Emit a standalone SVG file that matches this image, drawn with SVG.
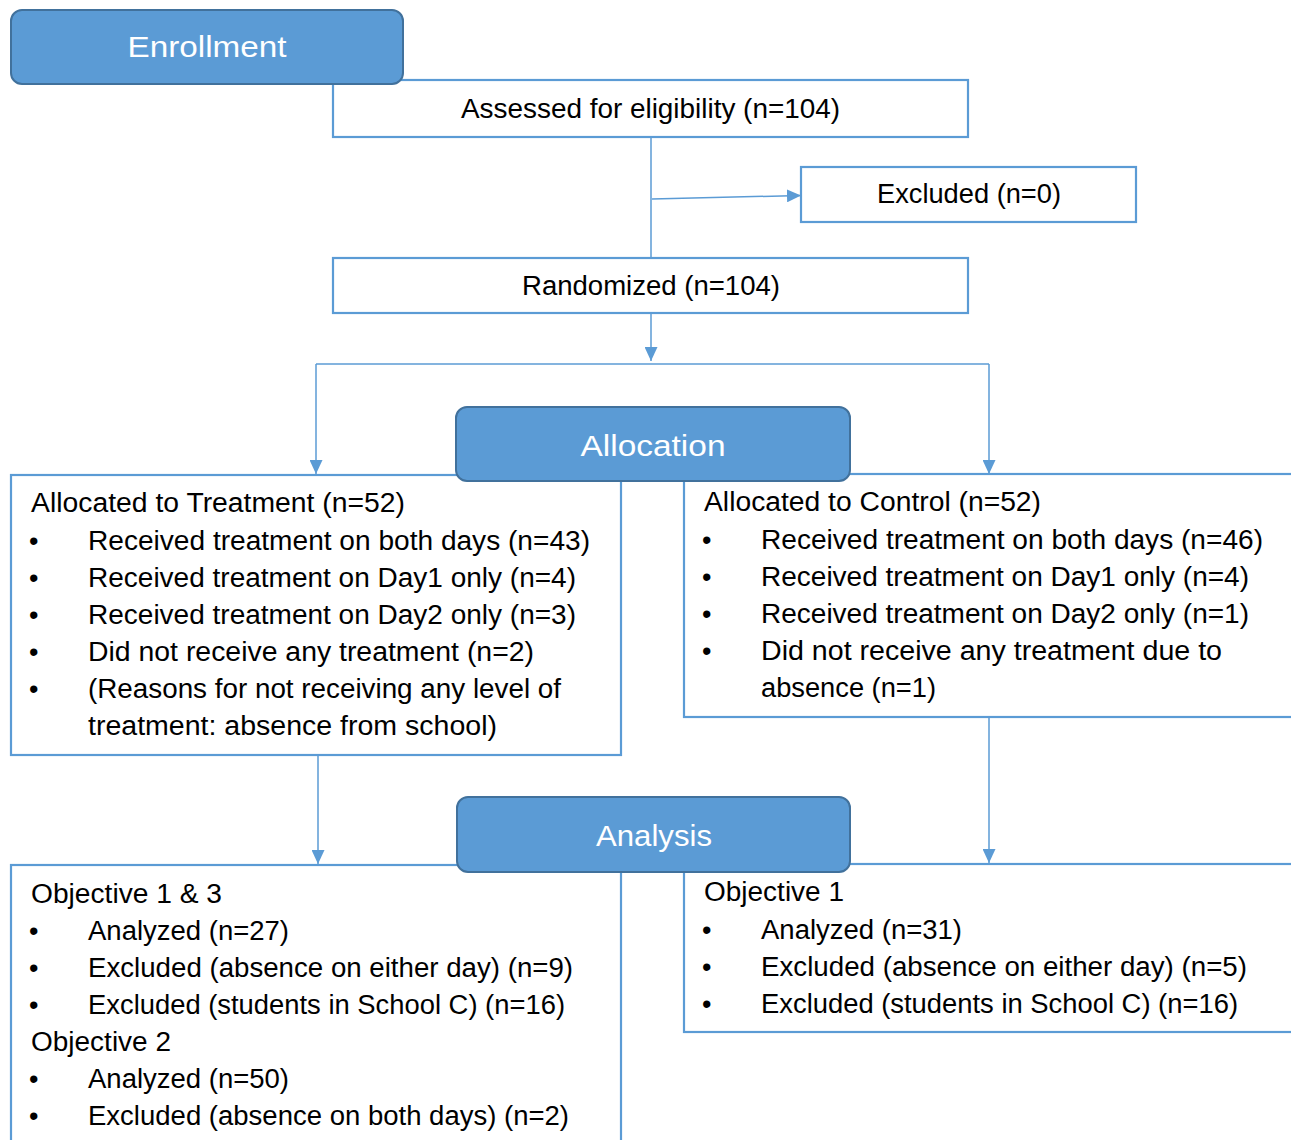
<svg xmlns="http://www.w3.org/2000/svg" width="1291" height="1140" viewBox="0 0 1291 1140">
<defs>
<marker id="arr" viewBox="0 0 14 13" refX="14" refY="6.5" markerWidth="14" markerHeight="13" markerUnits="userSpaceOnUse" orient="auto">
<path d="M0,0 L14,6.5 L0,13 Z" fill="#5B9BD5"/>
</marker>
<style>
.box{fill:#fff;stroke:#5B9BD5;stroke-width:2.2}
.hdr{fill:#5B9BD5;stroke:#41719C;stroke-width:2}
.hdrt{font-family:"Liberation Sans",Arial,sans-serif;font-size:29px;fill:#fff;text-anchor:middle}
.t{font-family:"Liberation Sans",Arial,sans-serif;font-size:27px;fill:#000}
.conn{stroke:#5B9BD5;stroke-width:1.5;fill:none}
</style>
</defs>
<rect width="1291" height="1140" fill="#fff"/>

<g id="connectors">
<line class="conn" x1="651" y1="137" x2="651" y2="258"/>
<line class="conn" x1="652" y1="199" x2="801" y2="195.5" marker-end="url(#arr)"/>
<line class="conn" x1="651" y1="313" x2="651" y2="361" marker-end="url(#arr)"/>
<line class="conn" x1="316" y1="364" x2="989" y2="364"/>
<line class="conn" x1="316" y1="364" x2="316" y2="474" marker-end="url(#arr)"/>
<line class="conn" x1="989" y1="364" x2="989" y2="474" marker-end="url(#arr)"/>
<line class="conn" x1="318" y1="755" x2="318" y2="864" marker-end="url(#arr)"/>
<line class="conn" x1="989" y1="717" x2="989" y2="863" marker-end="url(#arr)"/>
</g>

<g id="assessed">
<rect class="box" x="333" y="80" width="635" height="57"/>
<text class="t" x="461" y="118" textLength="379" lengthAdjust="spacingAndGlyphs">Assessed for eligibility (n=104)</text>
</g>

<g id="enrollment">
<rect class="hdr" x="11" y="10" width="392" height="74" rx="11"/>
<text class="hdrt" x="207" y="57" textLength="159" lengthAdjust="spacingAndGlyphs">Enrollment</text>
</g>

<g id="excluded">
<rect class="box" x="801" y="167" width="335" height="55"/>
<text class="t" x="877" y="203" textLength="184" lengthAdjust="spacingAndGlyphs">Excluded (n=0)</text>
</g>

<g id="randomized">
<rect class="box" x="333" y="258" width="635" height="55"/>
<text class="t" x="522" y="295" textLength="258" lengthAdjust="spacingAndGlyphs">Randomized (n=104)</text>
</g>

<g id="treatment">
<rect class="box" x="11" y="475" width="610" height="280"/>
<text class="t" x="31" y="512" textLength="374" lengthAdjust="spacingAndGlyphs">Allocated to Treatment (n=52)</text>
<text class="t" x="29" y="550">•</text>
<text class="t" x="88" y="550" textLength="502" lengthAdjust="spacingAndGlyphs">Received treatment on both days (n=43)</text>
<text class="t" x="29" y="587">•</text>
<text class="t" x="88" y="587" textLength="488" lengthAdjust="spacingAndGlyphs">Received treatment on Day1 only (n=4)</text>
<text class="t" x="29" y="624">•</text>
<text class="t" x="88" y="624" textLength="488" lengthAdjust="spacingAndGlyphs">Received treatment on Day2 only (n=3)</text>
<text class="t" x="29" y="661">•</text>
<text class="t" x="88" y="661" textLength="446" lengthAdjust="spacingAndGlyphs">Did not receive any treatment (n=2)</text>
<text class="t" x="29" y="698">•</text>
<text class="t" x="88" y="698" textLength="473" lengthAdjust="spacingAndGlyphs">(Reasons for not receiving any level of</text>
<text class="t" x="88" y="735" textLength="409" lengthAdjust="spacingAndGlyphs">treatment: absence from school)</text>
</g>

<g id="control">
<rect class="box" x="684" y="474" width="620" height="243"/>
<text class="t" x="704" y="511" textLength="337" lengthAdjust="spacingAndGlyphs">Allocated to Control (n=52)</text>
<text class="t" x="702" y="549">•</text>
<text class="t" x="761" y="549" textLength="502" lengthAdjust="spacingAndGlyphs">Received treatment on both days (n=46)</text>
<text class="t" x="702" y="586">•</text>
<text class="t" x="761" y="586" textLength="488" lengthAdjust="spacingAndGlyphs">Received treatment on Day1 only (n=4)</text>
<text class="t" x="702" y="623">•</text>
<text class="t" x="761" y="623" textLength="488" lengthAdjust="spacingAndGlyphs">Received treatment on Day2 only (n=1)</text>
<text class="t" x="702" y="660">•</text>
<text class="t" x="761" y="660" textLength="461" lengthAdjust="spacingAndGlyphs">Did not receive any treatment due to</text>
<text class="t" x="761" y="697" textLength="175" lengthAdjust="spacingAndGlyphs">absence (n=1)</text>
</g>

<g id="allocation">
<rect class="hdr" x="456" y="407" width="394" height="74" rx="11"/>
<text class="hdrt" x="653" y="456" textLength="145" lengthAdjust="spacingAndGlyphs">Allocation</text>
</g>

<g id="analysis-left">
<rect class="box" x="11" y="865" width="610" height="300"/>
<text class="t" x="31" y="903" textLength="191" lengthAdjust="spacingAndGlyphs">Objective 1 &amp; 3</text>
<text class="t" x="29" y="940">•</text>
<text class="t" x="88" y="940" textLength="201" lengthAdjust="spacingAndGlyphs">Analyzed (n=27)</text>
<text class="t" x="29" y="977">•</text>
<text class="t" x="88" y="977" textLength="485" lengthAdjust="spacingAndGlyphs">Excluded (absence on either day) (n=9)</text>
<text class="t" x="29" y="1014">•</text>
<text class="t" x="88" y="1014" textLength="477" lengthAdjust="spacingAndGlyphs">Excluded (students in School C) (n=16)</text>
<text class="t" x="31" y="1051" textLength="140" lengthAdjust="spacingAndGlyphs">Objective 2</text>
<text class="t" x="29" y="1088">•</text>
<text class="t" x="88" y="1088" textLength="201" lengthAdjust="spacingAndGlyphs">Analyzed (n=50)</text>
<text class="t" x="29" y="1125">•</text>
<text class="t" x="88" y="1125" textLength="481" lengthAdjust="spacingAndGlyphs">Excluded (absence on both days) (n=2)</text>
</g>

<g id="analysis-right">
<rect class="box" x="684" y="864" width="620" height="168"/>
<text class="t" x="704" y="901" textLength="140" lengthAdjust="spacingAndGlyphs">Objective 1</text>
<text class="t" x="702" y="939">•</text>
<text class="t" x="761" y="939" textLength="201" lengthAdjust="spacingAndGlyphs">Analyzed (n=31)</text>
<text class="t" x="702" y="976">•</text>
<text class="t" x="761" y="976" textLength="486" lengthAdjust="spacingAndGlyphs">Excluded (absence on either day) (n=5)</text>
<text class="t" x="702" y="1013">•</text>
<text class="t" x="761" y="1013" textLength="477" lengthAdjust="spacingAndGlyphs">Excluded (students in School C) (n=16)</text>
</g>

<g id="analysis">
<rect class="hdr" x="457" y="797" width="393" height="75" rx="11"/>
<text class="hdrt" x="654" y="846" textLength="116" lengthAdjust="spacingAndGlyphs">Analysis</text>
</g>
</svg>
